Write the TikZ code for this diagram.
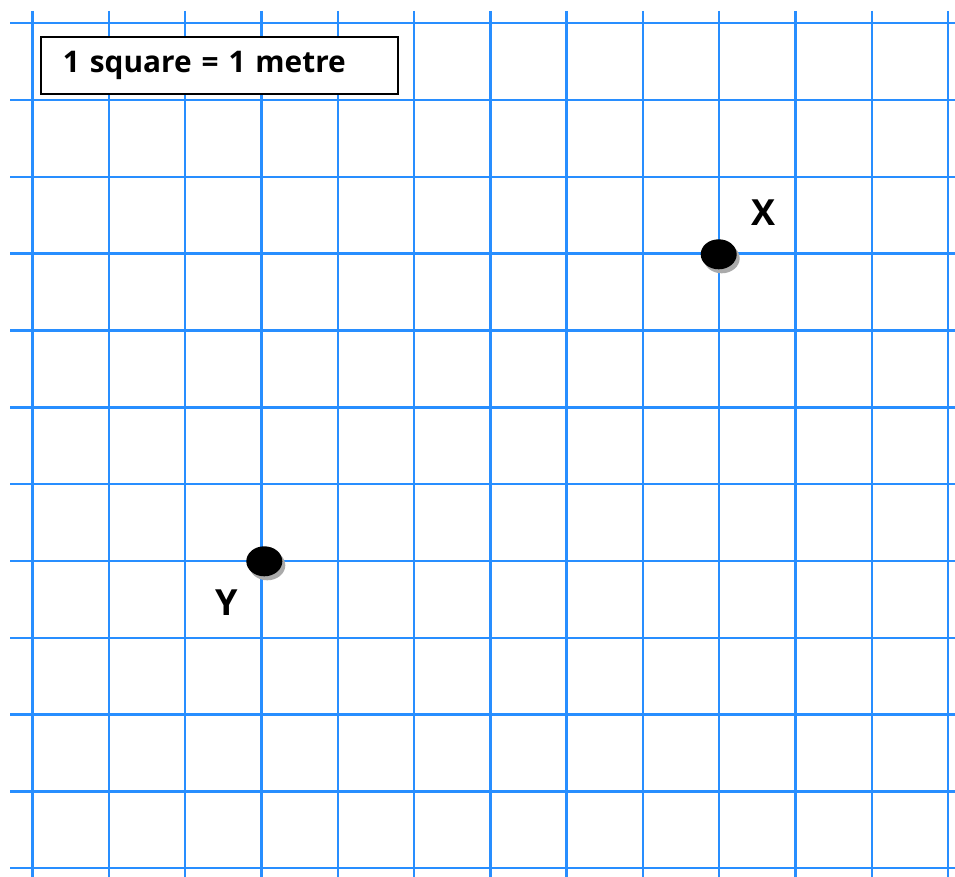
\documentclass[tikz,border=0pt]{standalone}
\usepackage{fontspec}
\setmainfont{Open Sans}
\usetikzlibrary{shapes.geometric,shadows}
\definecolor{gridblue}{RGB}{40,142,255}
\definecolor{shadowgray}{RGB}{170,170,170}
\tikzset{
  gridline/.style={draw=gridblue, line width=2.4pt},
  keybox/.style={draw=black, line width=1.8pt, fill=white, minimum height=57.3pt, inner xsep=22pt, inner ysep=0pt, text width=312.7pt, align=left, font=\fontsize{29.8}{32}\selectfont\bfseries},
  dot/.style={ellipse, fill=black, minimum width=36pt, minimum height=30pt, inner sep=0pt,
    drop shadow={shadow xshift=3pt, shadow yshift=-4pt, fill=shadowgray, opacity=1}},
  lbl/.style={font=\fontsize{36}{38}\selectfont\bfseries, inner sep=0pt}
}
\begin{document}
\begin{tikzpicture}[x=1pt,y=-1pt]
\useasboundingbox (0,0) rectangle (955,877);
\fill[white] (0,0) rectangle (955,877);
\foreach \i in {0,...,12} {
  \draw[gridline] ({32.5+76.3*\i},11) -- ({32.5+76.3*\i},877);
}
\foreach \j in {0,...,11} {
  \draw[gridline] (10,{23.3+76.8*\j}) -- (955,{23.3+76.8*\j});
}
\node[keybox, anchor=north west] (key) at (40,36) {\raisebox{-2pt}{1 square = 1 metre}};
\node[dot] (x) at (718.7,254.3) {};
\node[dot] (y) at (264.3,561.3) {};
\node[lbl] (xl) at (763,213) {X};
\node[lbl] (yl) at (227,603) {Y};
\end{tikzpicture}
\end{document}
